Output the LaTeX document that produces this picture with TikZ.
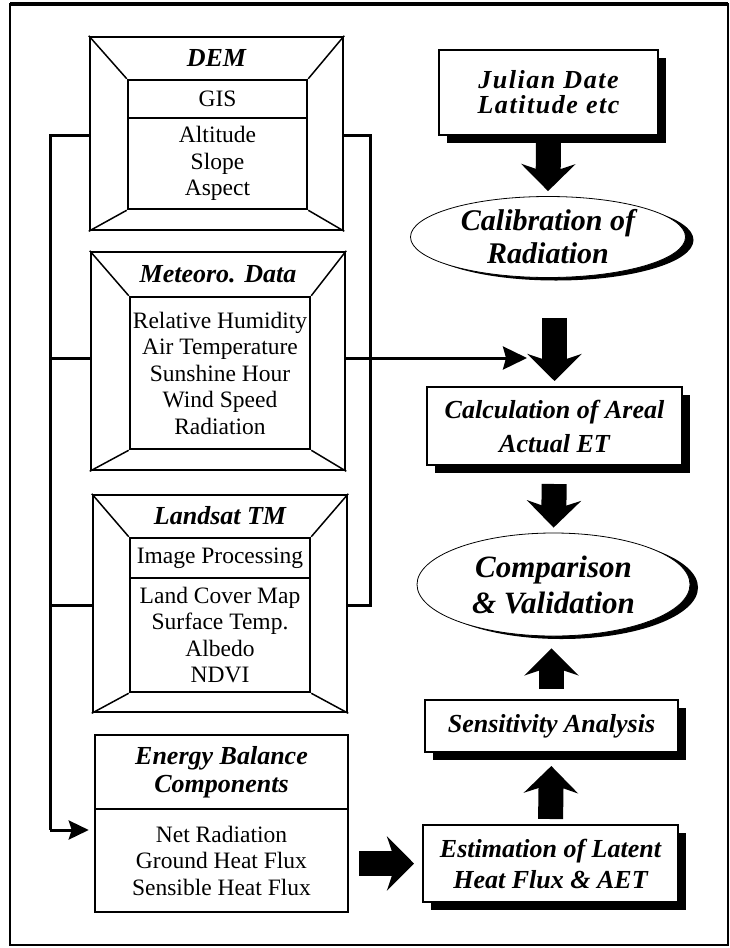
\documentclass[tikz,border=0pt]{standalone}
\usepackage{fontspec}
\setmainfont{Liberation Serif}
\usetikzlibrary{arrows.meta,shapes.geometric,shadows}

\begin{document}
\begin{tikzpicture}[x=1pt,y=-1pt,
	bevel/.style={draw, line width=2.5pt, inner sep=0pt},
	panel/.style={draw, line width=2.5pt, inner sep=0pt, align=center, font=\fontsize{23.5}{26.5}\selectfont},
	head/.style={align=center, inner sep=0pt, font=\fontsize{26}{29}\selectfont\bfseries\itshape},
	stepbox/.style={draw, fill=white, line width=2pt, inner sep=0pt, align=center,
		font=\fontsize{26}{31}\selectfont\bfseries\itshape,
		drop shadow={shadow xshift=8pt, shadow yshift=-8pt, fill=black, opacity=1}},
	oval/.style={ellipse, draw, fill=white, line width=0.8pt, inner sep=0pt, align=center,
		font=\fontsize{30}{33}\selectfont\bfseries\itshape,
		drop shadow={shadow xshift=8pt, shadow yshift=-3pt, fill=black, opacity=1}},
	bus/.style={line width=3pt},
	fat/.style={line width=25pt, -{Stealth[length=27pt, width=54pt, inset=9pt]}}
]
\useasboundingbox (0,0) rectangle (729,948);

% frame
\draw[line width=2pt] (10,4) rectangle (728,945);
\draw[line width=4pt] (10,4) -- (728,4);

% input panels
\node[bevel, minimum width=253pt, minimum height=193pt] (dem) at (216.5,133.5) {};
\node[panel, minimum width=179pt, minimum height=38pt] (demgis) at (217.5,99) {GIS};
\node[panel, minimum width=179pt, minimum height=91pt] (demlist) at (217.5,163.5) {Altitude\\Slope\\Aspect};
\node[head] (demt) at (216.5,58) {DEM};
\draw[line width=1.5pt] (dem.north west) -- (demgis.north west) (dem.north east) -- (demgis.north east)
	(dem.south west) -- (demlist.south west) (dem.south east) -- (demlist.south east);

\node[bevel, minimum width=254pt, minimum height=218pt] (met) at (218,361) {};
\node[panel, minimum width=180pt, minimum height=152pt] (metlist) at (220,373)
	{Relative Humidity\\Air Temperature\\Sunshine Hour\\Wind Speed\\Radiation};
\node[head] (mett) at (218,274) {Meteoro. Data};
\foreach \c in {north west, north east, south west, south east}
	\draw[line width=1.5pt] (met.\c) -- (metlist.\c);

\node[bevel, minimum width=254pt, minimum height=217pt] (lsat) at (220,603.5) {};
\node[panel, minimum width=180pt, minimum height=40pt] (lsatimg) at (220,558) {Image Processing};
\node[panel, minimum width=180pt, minimum height=114pt] (lsatlist) at (220,635)
	{Land Cover Map\\Surface Temp.\\Albedo\\NDVI};
\node[head] (lsatt) at (220,516) {Landsat TM};
\draw[line width=1.5pt] (lsat.north west) -- (lsatimg.north west) (lsat.north east) -- (lsatimg.north east)
	(lsat.south west) -- (lsatlist.south west) (lsat.south east) -- (lsatlist.south east);

\node[panel, minimum width=253pt, minimum height=74pt, font=\fontsize{26}{28}\selectfont\bfseries\itshape]
	(ebhead) at (221.5,772) {Energy Balance\\Components};
\node[panel, minimum width=253pt, minimum height=103pt] (eblist) at (221.5,860.5)
	{Net Radiation\\Ground Heat Flux\\Sensible Heat Flux};

% bus lines
\coordinate (lt) at (50,135);
\coordinate (lb) at (50,830);
\coordinate (mj) at (50,358);
\coordinate (rt) at (370,135);
\coordinate (rb) at (370,605);
\coordinate (mtip) at (527,358);
\draw[bus] (dem.west |- lt) -- (lt) -- (lb);
\draw[bus] (mj) -- (met.west |- mj);
\draw[bus] (lt |- rb) -- (lsat.west |- rb);
\draw[bus, -{Stealth[length=20pt, width=19pt, inset=3pt]}, shorten >=5pt] (lb) -- (eblist.west |- lb);
\draw[bus] (dem.east |- rt) -- (rt) -- (rb) -- (lsat.east |- rb);
\draw[bus, -{Stealth[length=24pt, width=23pt, inset=3pt]}] (met.east |- mj) -- (mtip);

% processing chain
\node[stepbox, minimum width=219pt, minimum height=85pt, shadow xshift=6pt, shadow yshift=-6pt,
	font=\fontsize{26}{25}\selectfont\bfseries\itshape\addfontfeature{LetterSpace=6}]
	(julian) at (548.5,92.5) {Julian Date\\Latitude etc};
\node[oval, minimum width=275pt, minimum height=81pt] (calib) at (548,237) {Calibration of\\Radiation};
\node[stepbox, minimum width=255pt, minimum height=78pt, font=\fontsize{26}{34}\selectfont\bfseries\itshape]
	(calc) at (554.5,426) {Calculation of Areal\\Actual ET};
\node[oval, minimum width=273pt, minimum height=103pt, font=\fontsize{31}{36}\selectfont\bfseries\itshape]
	(comp) at (553.5,584.5) {Comparison\\\& Validation};
\node[stepbox, minimum width=253pt, minimum height=52pt] (sens) at (551.5,726) {Sensitivity Analysis};
\node[stepbox, minimum width=255pt, minimum height=77pt] (est) at (550.5,863.5)
	{Estimation of Latent\\Heat Flux \& AET};

\draw[fat, shorten <=7pt, shorten >=5pt] (julian.south) -- (calib.north);
\draw[fat, shorten <=40pt, shorten >=5pt] (calib.south -| calc.north) -- (calc.north);
\draw[fat, shorten <=18pt, shorten >=5pt] (calc.south) -- (comp.north);
\draw[fat, shorten <=10pt, shorten >=12pt] (sens.north) -- (comp.south -| sens.north);
\draw[fat, shorten <=5pt, shorten >=13pt] (est.north) -- (sens.south);
\draw[fat, shorten <=10pt, shorten >=8pt] (eblist.east |- est.west) -- (est.west);

\end{tikzpicture}
\end{document}
